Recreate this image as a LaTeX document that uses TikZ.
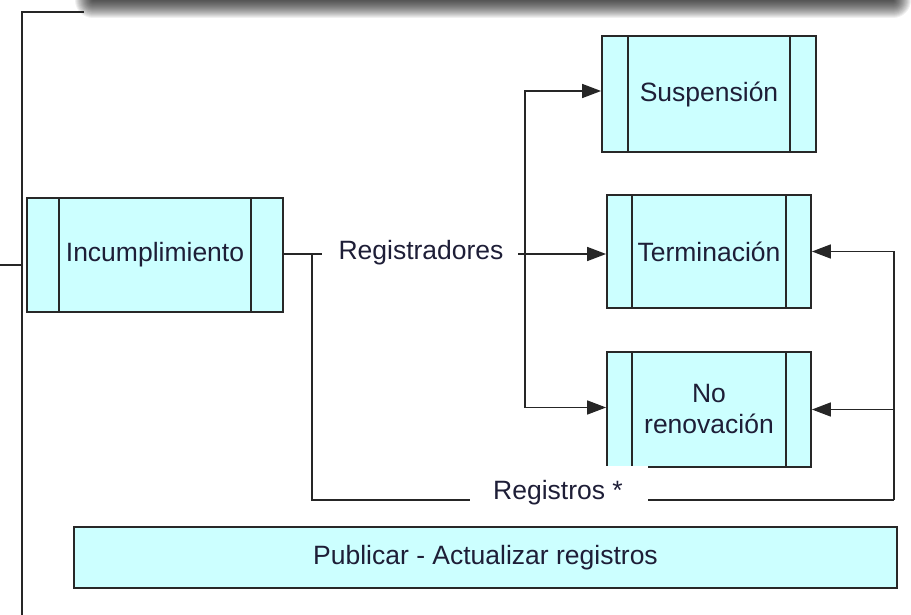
\documentclass[tikz,border=0pt]{standalone}
\usepackage{fontspec}
\setmainfont{Liberation Sans}
\usetikzlibrary{arrows.meta}
\definecolor{boxfill}{HTML}{CCFFFF}
\definecolor{txt}{RGB}{30,30,55}
\definecolor{edge}{RGB}{40,40,40}
\begin{document}
\begin{tikzpicture}[x=1pt,y=-1pt,
  box/.style={draw=edge, line width=1.8pt, fill=boxfill, text=txt,
    font=\fontsize{26.5}{31}\selectfont, align=center, inner sep=0pt},
  sidebars/.style={path picture={
    \draw[edge,line width=1.6pt] ([xshift=#1]path picture bounding box.north west) -- ([xshift=#1]path picture bounding box.south west);
    \draw[edge,line width=1.6pt] ([xshift=-#1]path picture bounding box.north east) -- ([xshift=-#1]path picture bounding box.south east);}},
  lbl/.style={text=txt, font=\fontsize{26.5}{31}\selectfont, inner sep=0pt},
  ln/.style={draw=black!85, line width=1.6pt},
  arr/.style={ln, -{Triangle[length=19pt,width=14pt]}}
]
\useasboundingbox (0,0) rectangle (911,615);
% top shadow of a box outside the picture
\foreach \i in {0,...,18}{
  \fill[black,opacity=0.06,rounded corners=\i pt] (93-\i,-30-\i) rectangle (893+\i,0+\i);
}
% left bracket
\coordinate (tl) at (84,12);
\coordinate (corner) at (22,12);
\coordinate (bot) at (22,615);
\coordinate (stub) at (0,265);
\coordinate (stubj) at (22,265);
\draw[ln] (tl) -- (corner) -- (bot);
\draw[ln] (stub) -- (stubj);

% boxes
\node[box, sidebars=32pt, minimum width=256pt, minimum height=114pt] (inc) at (155,255) {Incumplimiento};
\node[box, sidebars=26pt, minimum width=214pt, minimum height=116pt] (susp) at (709,94) {Suspensión};
\node[box, sidebars=25pt, minimum width=204pt, minimum height=113pt] (term) at (709,251.5) {Terminación};
\node[box, sidebars=25pt, minimum width=204pt, minimum height=115pt] (noren) at (709,409.5) {No\\renovación};
\fill[white] (604,465.5) rectangle (648,471);
\node[box, minimum width=823pt, minimum height=61pt] (pub) at (485.5,557.5) {Publicar - Actualizar registros};

% labels
\node[lbl] (regd) at (421,253) {Registradores};
\node[lbl] (regs) at (558,493) {Registros *};

% connectors
\coordinate (a1) at (322,254);
\coordinate (j1) at (312,254);
\coordinate (j2) at (312,500);
\coordinate (r1) at (470,500);
\coordinate (r2) at (648,500);
\coordinate (rb) at (894,500);
\coordinate (b1) at (518,254);
\coordinate (vm) at (525,254);

\draw[ln] (inc.east |- a1) -- (a1);
\draw[ln] (j1) -- (j2) -- (r1);
\draw[arr] (b1) -- (term.west |- b1);
\draw[arr] (vm) |- ([yshift=3pt]susp.west);
\draw[arr] (vm) |- ([yshift=2pt]noren.west);
\draw[ln] (r2) -- (rb);
\draw[arr] (rb) |- (term.east);
\draw[arr] (rb |- noren.east) -- (noren.east);
\end{tikzpicture}
\end{document}
